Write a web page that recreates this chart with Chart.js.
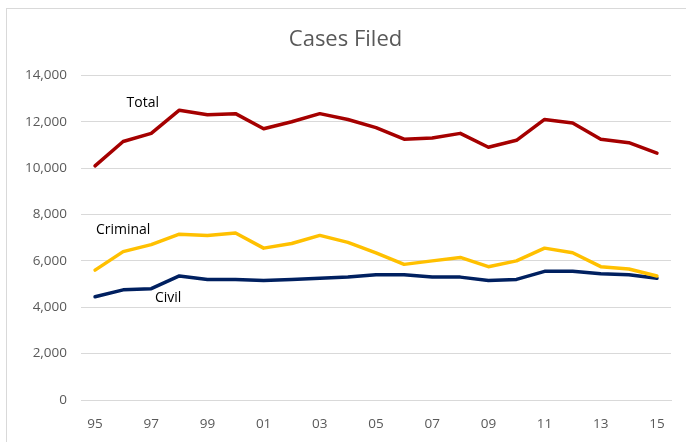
<!DOCTYPE html>
<html>
<head>
<meta charset="utf-8">
<script src="https://cdn.jsdelivr.net/npm/chart.js@4.4.1/dist/chart.umd.min.js"></script>
<style>
  html, body { margin: 0; padding: 0; background: #fff; overflow: hidden; }
  #frame { position: absolute; left: 6px; top: 8px; width: 700px; height: 460px; border: 1px solid #d9d9d9; }
  #wrap { position: absolute; left: 0; top: 0; width: 686px; height: 442px; }
</style>
</head>
<body>
<div id="frame"></div>
<div id="wrap"><canvas id="chart"></canvas></div>
<script>
const years = ['95','96','97','98','99','00','01','02','03','04','05','06','07','08','09','10','11','12','13','14','15'];
const total = [10100, 11150, 11500, 12500, 12300, 12350, 11700, 12000, 12350, 12100, 11750, 11250, 11300, 11500, 10900, 11200, 12100, 11950, 11250, 11100, 10650];
const criminal = [5600, 6400, 6700, 7150, 7100, 7200, 6550, 6750, 7100, 6800, 6350, 5850, 6000, 6150, 5750, 6000, 6550, 6350, 5750, 5650, 5350];
const civil = [4450, 4750, 4800, 5350, 5200, 5200, 5150, 5200, 5250, 5300, 5400, 5400, 5300, 5300, 5150, 5200, 5550, 5550, 5450, 5400, 5250];

// series name labels drawn inside the plot: [text, category index, value]
const seriesLabels = [
  ['Total', 1.7, 12800],
  ['Criminal', 1.0, 7350],
  ['Civil', 2.6, 4400]
];

const labelPlugin = {
  id: 'seriesLabels',
  afterDatasetsDraw(chart) {
    const ctx = chart.ctx;
    const x = chart.scales.x, y = chart.scales.y;
    ctx.save();
    ctx.font = "14px 'Open Sans', sans-serif";
    ctx.fillStyle = '#000';
    ctx.textAlign = 'center';
    ctx.textBaseline = 'middle';
    seriesLabels.forEach(([text, i, v]) => {
      ctx.fillText(text, x.getPixelForValue(i), y.getPixelForValue(v));
    });
    ctx.restore();
  }
};

const tickFont = { family: "'Open Sans', sans-serif", size: 13.5 };

new Chart(document.getElementById('chart'), {
  type: 'line',
  data: {
    labels: years,
    datasets: [
      { label: 'Total', data: total, borderColor: '#a50000' },
      { label: 'Criminal', data: criminal, borderColor: '#ffc000' },
      { label: 'Civil', data: civil, borderColor: '#002060' }
    ]
  },
  options: {
    responsive: true,
    maintainAspectRatio: false,
    animation: false,
    elements: {
      line: { borderWidth: 3.5, tension: 0, borderCapStyle: 'round', borderJoinStyle: 'round' },
      point: { radius: 0 }
    },
    layout: { padding: { left: 20, right: 15, top: 0, bottom: 0 } },
    scales: {
      x: {
        offset: true,
        grid: { display: false },
        border: { display: true, color: '#d9d9d9' },
        ticks: {
          font: tickFont,
          color: '#595959',
          maxRotation: 0,
          autoSkip: false,
          padding: 8,
          callback: function(val, idx) { return idx % 2 === 0 ? this.getLabelForValue(val) : ''; }
        },
        afterFit(scale) { scale.height = 42; }
      },
      y: {
        min: 0,
        max: 14000,
        ticks: {
          stepSize: 2000,
          font: tickFont,
          color: '#595959',
          padding: 14,
          callback: v => v.toLocaleString('en-US')
        },
        grid: { color: '#d9d9d9', drawTicks: false },
        border: { display: false },
        afterFit(scale) { scale.width = 61; }
      }
    },
    plugins: {
      legend: { display: false },
      tooltip: { enabled: false },
      title: {
        display: true,
        text: 'Cases Filed',
        color: '#595959',
        font: { family: "'Open Sans', sans-serif", size: 22, weight: 'normal' },
        padding: { top: 27, bottom: 22 }
      }
    }
  },
  plugins: [labelPlugin]
});
</script>
</body>
</html>
